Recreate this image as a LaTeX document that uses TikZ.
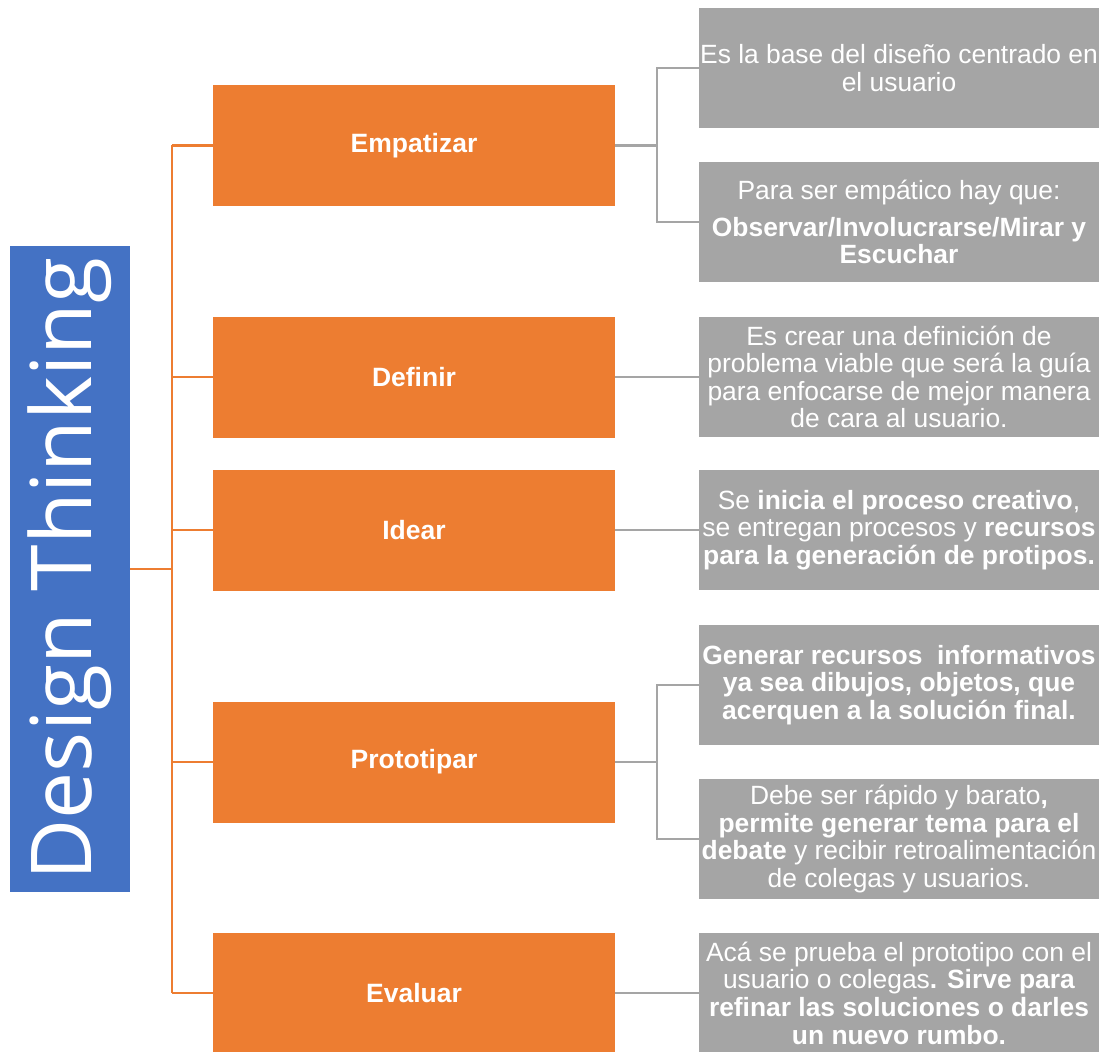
\documentclass[tikz,border=0pt]{standalone}
\usepackage{fontspec}
\setmainfont{Liberation Sans}
\newfontfamily\dtfont{Open Sans}
\definecolor{dtorange}{HTML}{ED7D31}
\definecolor{dtblue}{HTML}{4472C4}
\definecolor{dtgray}{HTML}{A5A5A5}
\begin{document}
\begin{tikzpicture}[x=1pt,y=-1pt,
  phase/.style={fill=dtorange, minimum width=402pt, minimum height=121pt, inner sep=0pt,
    text=white, font=\fontsize{26.5}{28}\selectfont\bfseries},
  info/.style={fill=dtgray, minimum width=400pt, minimum height=120pt, inner sep=0pt,
    text=white, align=center, font=\fontsize{26.4}{27.6}\selectfont},
  oline/.style={draw=dtorange, line width=2.2pt},
  gline/.style={draw=dtgray, line width=2.2pt}]
\useasboundingbox (0,0) rectangle (1099,1051);

% root
\node[fill=dtblue, minimum width=120pt, minimum height=646pt, inner sep=0pt] (root) at (70,569) {};
\node[rotate=90, text=white, font=\dtfont\fontsize{84}{84}\selectfont] (rootlabel) at (root.center) {Design Thinking};

% phases
\node[phase] (emp) at (414,145.5) {\raisebox{-3pt}{Empatizar}};
\node[phase] (def) at (414,377) {\raisebox{-2pt}{Definir}};
\node[phase] (ide) at (414,530) {\raisebox{-2pt}{Idear}};
\node[phase] (pro) at (414,762) {\raisebox{-2pt}{Prototipar}};
\node[phase] (eva) at (414,993) {\raisebox{-2pt}{Evaluar}};

% descriptions
\node[info] (g1) at (899,68) {Es la base del diseño centrado en\\el usuario};
\node[info] (g2) at (899,222) {Para ser empático hay que:\\[9pt]\textbf{Observar/Involucrarse/Mirar y}\\\textbf{Escuchar}};
\node[info] (g3) at (899,377) {Es crear una definición de\\problema viable que será la guía\\para enfocarse de mejor manera\\de cara al usuario.};
\node[info] (g4) at (899,530) {Se \textbf{inicia el proceso creativo},\\se entregan procesos y \textbf{recursos}\\\textbf{para la generación de protipos.}};
\node[info] (g5) at (899,685) {\textbf{Generar recursos~ informativos}\\\textbf{ya sea dibujos, objetos, que}\\\textbf{acerquen a la solución final.}};
\node[info] (g6) at (899,839) {Debe ser rápido y barato\textbf{,}\\\textbf{permite generar tema para el}\\\textbf{debate} y recibir retroalimentación\\de colegas y usuarios.};
\node[info] (g7) at (899,993) {Acá se prueba el prototipo con el\\usuario o colegas\textbf{. Sirve para}\\\textbf{refinar las soluciones o darles}\\\textbf{un nuevo rumbo.}};

% orange tree
\coordinate (bus) at (172,569);
\draw[oline] (root.east) -- (bus);
\draw[oline] (emp.west -| bus) -- (eva.west -| bus);
\foreach \p in {emp,def,ide,pro,eva}
  \draw[oline] (\p.west -| bus) -- (\p.west);

% gray connectors
\coordinate (ej) at (657,145.5);
\coordinate (pj) at (657,762);
\draw[gline] (emp.east) -- (ej);
\draw[gline] (g1.west) -| (ej) |- (g2.west);
\draw[gline] (pro.east) -- (pj);
\draw[gline] (g5.west) -| (pj) |- (g6.west);
\draw[gline] (def.east) -- (g3.west);
\draw[gline] (ide.east) -- (g4.west);
\draw[gline] (eva.east) -- (g7.west);
\end{tikzpicture}
\end{document}
